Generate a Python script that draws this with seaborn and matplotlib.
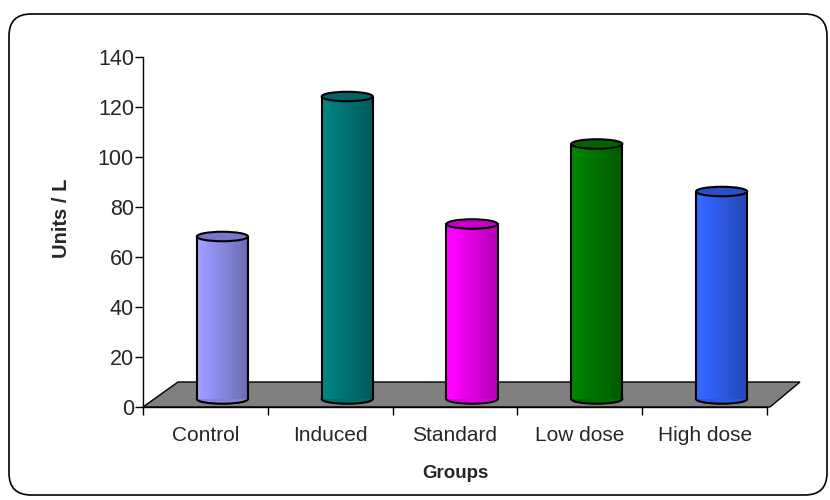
import numpy as np
import matplotlib
matplotlib.use('Agg')
import matplotlib.pyplot as plt
import matplotlib.patches as mpatches
import matplotlib.transforms as mtransforms
from matplotlib.colors import to_rgb
import pandas as pd
import seaborn as sns

groups = ['Control', 'Induced', 'Standard', 'Low dose', 'High dose']
units = [65, 121, 70, 102, 83]
colours = ['#9999FF', '#008080', '#FF00FF', '#008000', '#3366FF']

df = pd.DataFrame({'Groups': groups, 'Units': units})

sns.set_style('white')
plt.rcParams['font.family'] = ['Liberation Sans', 'DejaVu Sans']

fig = plt.figure(figsize=(8.3, 5), dpi=100)
ax = fig.add_axes([143 / 830, 1 - 407 / 500, 624 / 830, 350 / 500])

# rounded frame around the whole chart
frame = mpatches.FancyBboxPatch((0.09, 0.05), 8.18, 4.81, boxstyle='round,pad=0,rounding_size=0.22',
                                transform=fig.dpi_scale_trans, facecolor='none', edgecolor='black',
                                lw=1.2, clip_on=False)
fig.patches.append(frame)

sns.barplot(data=df, x='Groups', y='Units', hue='Groups', palette=colours, width=0.41,
            legend=False, ax=ax, saturation=1)

ax.set_xlim(-0.5, 4.5)
ax.set_ylim(0, 140)
ax.set_yticks(range(0, 141, 20))

# grey floor (3d look)
floor = mpatches.Polygon([(0, 0), (35 / 624, 25 / 350), (657 / 624, 25 / 350), (627 / 624, 0)],
                         closed=True, transform=ax.transAxes, facecolor='#808080',
                         edgecolor='black', lw=1, clip_on=False, zorder=1)
ax.add_patch(floor)

# cylinders sit at mid depth of the floor
offset = mtransforms.ScaledTranslation(0.17, 0.08, fig.dpi_scale_trans)
trans = ax.transData + offset
eh = 3.8  # ellipse height in data units

for p, c in zip(ax.patches[:len(groups)], colours):
    x0, w, h = p.get_x(), p.get_width(), p.get_height()
    cx = x0 + w / 2
    base = np.array(to_rgb(c))
    p.set_visible(False)
    grad = np.linspace(0, 1, 64)
    shade = 1.05 - 0.35 * grad
    img = np.clip(base[None, :] * shade[:, None], 0, 1)[None, :, :]
    # bottom half of cylinder
    bot = mpatches.Ellipse((cx, 0), w, eh, transform=trans, facecolor=base * 0.85,
                           edgecolor='black', lw=1.5, zorder=3, clip_on=False)
    ax.add_patch(bot)
    body = mpatches.Rectangle((x0, 0), w, h, transform=trans, facecolor='none', edgecolor='none')
    ax.add_patch(body)
    im = ax.imshow(img, extent=[x0, x0 + w, 0, h], aspect='auto', transform=trans, zorder=4,
                   interpolation='bilinear')
    im.set_clip_path(body)
    ax.plot([x0, x0], [0, h], color='black', lw=1.5, transform=trans, zorder=5, clip_on=False)
    ax.plot([x0 + w, x0 + w], [0, h], color='black', lw=1.5, transform=trans, zorder=5, clip_on=False)
    top = mpatches.Ellipse((cx, h), w, eh, transform=trans, facecolor=base * 0.78,
                           edgecolor='black', lw=1.5, zorder=6, clip_on=False)
    ax.add_patch(top)

ax.set_xlim(-0.5, 4.5)
ax.set_ylim(0, 140)

for s in ['top', 'right']:
    ax.spines[s].set_visible(False)
for s in ['left', 'bottom']:
    ax.spines[s].set_color('black')
    ax.spines[s].set_linewidth(1)
ax.spines['bottom'].set_zorder(2)

ax.set_xticks(np.arange(-0.5, 5, 1), minor=True)
ax.tick_params(axis='x', which='major', length=0, pad=14, labelsize=15)
ax.tick_params(axis='x', which='minor', length=6, width=1, color='black', direction='out', bottom=True)
ax.tick_params(axis='y', length=5.5, width=1, color='black', direction='out', left=True, pad=1,
               labelsize=15.5)

ax.set_xlabel('Groups', fontsize=13.5, fontweight='bold')
ax.set_ylabel('Units / L', fontsize=14.5, fontweight='bold')
ax.yaxis.set_label_coords(-72 / 624, 0.54)
ax.xaxis.set_label_coords(0.5, -58 / 350)

fig.savefig('out.png', dpi=100)
